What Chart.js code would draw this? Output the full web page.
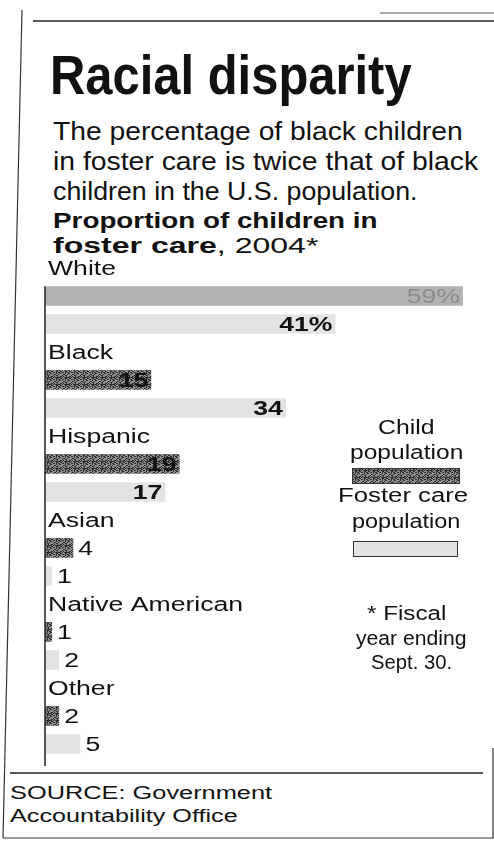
<!DOCTYPE html>
<html>
<head>
<meta charset="utf-8">
<script src="https://cdn.jsdelivr.net/npm/chart.js@4.4.1/dist/chart.umd.min.js"></script>
<style>
    html, body { margin: 0; padding: 0; background: #fff; }
    body { width: 494px; height: 842px; position: relative; overflow: hidden; font-family: "Liberation Sans", Arial, sans-serif; color: #111; }
    .t { position: absolute; white-space: nowrap; transform-origin: 0 0; line-height: 1; }
    .b { font-weight: bold; }
    #wrap { position: absolute; left: 0; top: 250px; width: 494px; height: 520px; }
    #frame { position: absolute; left: 0; top: 0; }
    .sw { position: absolute; height: 16px; box-sizing: border-box; }
</style>
</head>
<body>
<svg id="frame" width="494" height="842">
    <line x1="380" y1="13" x2="494" y2="13" stroke="#555" stroke-width="1"/>
    <line x1="33" y1="21" x2="494" y2="21" stroke="#222" stroke-width="1.5"/>
    <line x1="22" y1="10" x2="3" y2="838" stroke="#333" stroke-width="1.2"/>
    <line x1="10" y1="773" x2="483" y2="773" stroke="#222" stroke-width="1.5"/>
    <line x1="3" y1="838" x2="494" y2="838" stroke="#333" stroke-width="1.2"/>
    <line x1="493" y1="748" x2="493" y2="838" stroke="#333" stroke-width="1.2"/>
</svg>

<div class="t b" data-w="362" data-base="95" style="left:50px;font-size:55px">Racial disparity</div>
<div class="t" data-w="410" data-base="140" style="left:53px;font-size:25px">The percentage of black children</div>
<div class="t" data-w="425" data-base="170" style="left:53px;font-size:25px">in foster care is twice that of black</div>
<div class="t" data-w="365" data-base="200" style="left:53px;font-size:25px">children in the U.S. population.</div>
<div class="t b" data-w="325" data-base="229" style="left:53px;font-size:22px">Proportion of children in</div>
<div class="t" data-w="265" data-base="254" style="left:53px;font-size:22px"><b>foster care</b>, 2004*</div>

<div id="wrap"><canvas id="chart"></canvas></div>

<div class="t" data-w="57" data-base="434" style="left:378px;font-size:20px">Child</div>
<div class="t" data-w="113" data-base="459" style="left:350px;font-size:20px">population</div>
<div class="sw" id="swChild" style="left:352px;top:468px;width:108px;border:1px solid #333"></div>
<div class="t" data-w="130" data-base="502" style="left:338px;font-size:20px">Foster care</div>
<div class="t" data-w="108" data-base="528" style="left:352px;font-size:20px">population</div>
<div class="sw" style="left:353px;top:541px;width:105px;background:#e2e2e2;border:1.5px solid #333"></div>
<div class="t" data-w="80" data-base="620" style="left:367px;font-size:20px">* Fiscal</div>
<div class="t" data-w="111" data-base="645" style="left:356px;font-size:20px">year ending</div>
<div class="t" data-w="81" data-base="669" style="left:371px;font-size:20px">Sept. 30.</div>

<div class="t" data-w="262" data-base="799" style="left:10px;font-size:18px">SOURCE: Government</div>
<div class="t" data-w="228" data-base="822" style="left:10px;font-size:18px">Accountability Office</div>

<script>
const categories = ['White', 'Black', 'Hispanic', 'Asian', 'Native American', 'Other'];
const childPopulation = [59, 15, 19, 4, 1, 2];
const fosterCare = [41, 34, 17, 1, 2, 5];
const seriesNames = ['Child population', 'Foster care population'];

// fit each text block to the width it has in the print
document.querySelectorAll('.t').forEach((el) => {
    const fs = parseFloat(el.style.fontSize);
    el.style.top = (parseFloat(el.dataset.base) - 0.8465 * fs) + 'px';
    const w = el.scrollWidth;
    el.style.transform = `scaleX(${parseFloat(el.dataset.w) / w})`;
});

function halftoneCanvas(base, dark) {
    const c = document.createElement('canvas');
    c.width = 9;
    c.height = 7;
    const g = c.getContext('2d');
    g.fillStyle = base;
    g.fillRect(0, 0, 9, 7);
    g.fillStyle = dark;
    for (let y = 0; y < 7; y++) {
        for (let x = 0; x < 9; x++) {
            if ((x * 5 + y * 3 + (x * y) % 4) % 7 < 3) {
                g.fillRect(x, y, 1, 1);
            }
        }
    }
    return c;
}

const tile = halftoneCanvas('#8e8e8e', '#2c2c2c');
const childFill = tile.getContext('2d').createPattern(tile, 'repeat');
document.getElementById('swChild').style.background = `url(${tile.toDataURL()})`;

const textStretch = 1.33;
const regFont = '20px "Liberation Sans", Arial, sans-serif';
const boldFont = 'bold 20px "Liberation Sans", Arial, sans-serif';

const rowLabels = {
    id: 'rowLabels',
    afterDatasetsDraw(chart) {
        const ctx = chart.ctx;
        const childMeta = chart.getDatasetMeta(1);
        const fosterMeta = chart.getDatasetMeta(2);
        const x0 = chart.scales.x.getPixelForValue(0);
        ctx.save();
        ctx.fillStyle = '#111';
        ctx.textBaseline = 'middle';
        // axis line
        const top = childMeta.data[0].y - childMeta.data[0].height / 2;
        const bottom = chart.chartArea.bottom + 8;
        ctx.strokeStyle = '#222';
        ctx.lineWidth = 1.5;
        ctx.beginPath();
        ctx.moveTo(x0, top);
        ctx.lineTo(x0, bottom);
        ctx.stroke();

        categories.forEach((name, i) => {
            const yc = childMeta.data[i].y;
            const yf = fosterMeta.data[i].y;
            const y = 2 * yc - yf + 1;
            ctx.font = regFont;
            ctx.save();
            ctx.translate(x0 + 3, y);
            ctx.scale(textStretch, 1);
            ctx.fillText(name, 0, 0);
            ctx.restore();
        });

        [childMeta, fosterMeta].forEach((meta, d) => {
            const values = d === 0 ? childPopulation : fosterCare;
            meta.data.forEach((bar, i) => {
                const txt = values[i] + (i === 0 ? '%' : '');
                const width = bar.x - x0;
                const muted = d === 0 && i === 0;
                ctx.font = muted ? regFont : boldFont;
                const tw = ctx.measureText(txt).width * textStretch;
                ctx.save();
                if (width > tw + 30) {
                    ctx.fillStyle = muted ? '#8a8a8a' : '#111';
                    ctx.translate(bar.x - 3 - tw, bar.y + 1);
                } else {
                    ctx.font = regFont;
                    ctx.fillStyle = '#111';
                    ctx.translate(bar.x + 5, bar.y + 1);
                }
                ctx.scale(textStretch, 1);
                ctx.fillText(txt, 0, 0);
                ctx.restore();
            });
        });
        ctx.restore();
    },
};

new Chart(document.getElementById('chart'), {
    type: 'bar',
    data: {
        labels: categories,
        datasets: [
            { label: '', data: [], backgroundColor: 'transparent' },
            {
                label: seriesNames[0],
                data: childPopulation,
                backgroundColor: childPopulation.map((v, i) => (i === 0 ? '#b2b2b2' : childFill)),
            },
            {
                label: seriesNames[1],
                data: fosterCare,
                backgroundColor: '#e3e3e3',
            },
        ],
    },
    options: {
        indexAxis: 'y',
        responsive: true,
        maintainAspectRatio: false,
        animation: false,
        events: [],
        layout: { padding: { left: 45, right: 24, top: 4, bottom: 12 } },
        datasets: { bar: { categoryPercentage: 1, barPercentage: 0.7 } },
        plugins: { legend: { display: false }, tooltip: { enabled: false } },
        scales: {
            x: { min: 0, max: 60, display: false },
            y: { display: false },
        },
    },
    plugins: [rowLabels],
});
</script>
</body>
</html>
